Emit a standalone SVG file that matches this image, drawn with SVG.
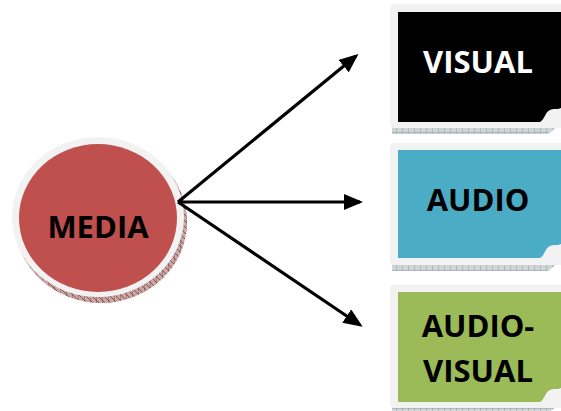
<svg xmlns="http://www.w3.org/2000/svg" width="561" height="411" viewBox="0 0 561 411">
<style>
.frame{fill:#f2f2f2}
.lbl{font-family:"Open Sans","Liberation Sans",sans-serif;font-weight:bold;font-size:31px;text-anchor:middle}
.conn line{stroke:#000;stroke-width:3.2;fill:none}
</style>
<defs>
<pattern id="hg" width="6" height="6" patternUnits="userSpaceOnUse">
<rect width="6" height="6" fill="#cfd4d6"/>
<path d="M0 0H6M0 0V6" stroke="#8a9396" stroke-width="0.8"/>
</pattern>
<pattern id="hr" width="6" height="6" patternUnits="userSpaceOnUse">
<rect width="6" height="6" fill="#c9a7a7"/>
<path d="M0 0L6 6M0 0V6" stroke="#7a3a3a" stroke-width="0.8"/>
</pattern>
<marker id="ah" markerWidth="6" markerHeight="5" refX="5" refY="2.5" orient="auto" markerUnits="strokeWidth">
<path d="M0 0L6 2.5L0 5Z" fill="#000"/>
</marker>
</defs>
<g id="media">
<ellipse cx="101" cy="222" rx="86" ry="81" fill="url(#hr)"/>
<ellipse cx="98" cy="217" rx="86" ry="80" class="frame"/>
<ellipse cx="98" cy="218" rx="79" ry="74" fill="#c0504d"/>
<text x="98" y="238" class="lbl" fill="#000">MEDIA</text>
</g>
<g id="visual">
<path d="M392 127H545L561 117V124L548 134H392Z" fill="url(#hg)"/>
<rect x="390" y="4" width="190" height="124" rx="4" class="frame"/>
<rect x="398" y="12" width="180" height="110" fill="#000"/>
<path d="M540 122C545 119 545 112 550 110C553 108 557 110 561 108V124H540Z" class="frame"/>
<text x="478" y="73" class="lbl" fill="#fff">VISUAL</text>
</g>
<g id="audio">
<path d="M392 264H545L561 254V261L548 271H392Z" fill="url(#hg)"/>
<rect x="390" y="143" width="190" height="122" rx="4" class="frame"/>
<rect x="398" y="150" width="180" height="108" fill="#4bacc6"/>
<path d="M540 258C545 255 545 248 550 246C553 244 557 246 561 244V260H540Z" class="frame"/>
<text x="478" y="211" class="lbl" fill="#000">AUDIO</text>
</g>
<g id="audiovisual">
<path d="M392 406H545L561 396V403L548 413H392Z" fill="url(#hg)"/>
<rect x="390" y="285" width="190" height="123" rx="4" class="frame"/>
<rect x="398" y="292" width="180" height="110" fill="#9bbb59"/>
<path d="M540 402C545 399 545 392 550 390C553 388 557 390 561 388V404H540Z" class="frame"/>
<text x="478" y="337" class="lbl" fill="#000">AUDIO-</text>
<text x="478" y="382" class="lbl" fill="#000">VISUAL</text>
</g>
<g id="connectors" class="conn">
<line x1="178" y1="202" x2="356" y2="56" marker-end="url(#ah)"/>
<line x1="178" y1="202" x2="360" y2="202" marker-end="url(#ah)"/>
<line x1="178" y1="202" x2="360" y2="325" marker-end="url(#ah)"/>
</g>
</svg>
